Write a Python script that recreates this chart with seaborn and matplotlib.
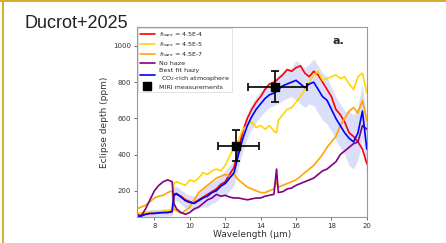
import numpy as np
import pandas as pd
import seaborn as sns
import matplotlib.pyplot as plt
from matplotlib.patches import Rectangle

# wavelength grid (um)
wave = [7.0, 7.25, 7.5, 7.75, 8.0, 8.25, 8.5, 8.75, 9.0, 9.1, 9.25, 9.5, 9.75,
        10.0, 10.25, 10.5, 10.75, 11.0, 11.25, 11.5, 11.75, 12.0, 12.25, 12.5,
        12.75, 13.0, 13.25, 13.5, 13.75, 14.0, 14.25, 14.5, 14.75, 14.9, 15.0,
        15.25, 15.5, 15.75, 16.0, 16.25, 16.5, 16.75, 17.0, 17.25, 17.5, 17.75,
        18.0, 18.25, 18.5, 18.75, 19.0, 19.25, 19.5, 19.75, 20.0]

haze_4e4 = [60, 65, 70, 75, 75, 78, 80, 80, 85, 175, 180, 170, 150,
            140, 135, 150, 165, 180, 195, 210, 235, 250, 290, 330,
            430, 530, 600, 650, 690, 720, 760, 790, 800, 810, 820,
            840, 870, 860, 880, 890, 850, 830, 860, 840, 800, 760,
            720, 650, 620, 580, 520, 500, 470, 430, 350]

haze_4e5 = [75, 78, 80, 82, 85, 85, 88, 90, 92, 240, 250, 240, 230,
            260, 250, 270, 300, 290, 310, 320, 310, 340, 390, 440,
            480, 540, 560, 580, 550, 560, 540, 560, 530, 520, 590,
            620, 650, 660, 690, 720, 760, 800, 840, 860, 810, 820,
            830, 840, 820, 830, 790, 760, 830, 850, 740]

haze_4e7 = [100, 110, 120, 140, 160, 170, 175, 190, 200, 95, 90, 75, 90,
            110, 150, 190, 210, 230, 250, 270, 280, 290, 280, 290,
            260, 240, 220, 210, 200, 190, 190, 200, 210, 250, 220,
            230, 240, 250, 260, 280, 300, 320, 340, 370, 400, 440,
            470, 500, 560, 600, 640, 660, 630, 700, 590]

no_haze = [70, 60, 100, 150, 200, 230, 250, 260, 250, 130, 100, 80, 70,
           80, 100, 110, 130, 150, 160, 180, 170, 175, 165, 160,
           160, 155, 150, 155, 160, 160, 170, 175, 180, 320, 190,
           195, 210, 215, 230, 240, 250, 260, 270, 290, 310, 320,
           340, 360, 400, 420, 440, 460, 470, 560, 540]

best_fit = [55, 60, 70, 75, 75, 78, 80, 80, 85, 180, 185, 165, 145,
            135, 130, 145, 160, 170, 190, 200, 225, 240, 270, 300,
            400, 490, 560, 610, 650, 680, 710, 730, 740, 750, 760,
            780, 790, 800, 810, 790, 770, 790, 800, 760, 720, 700,
            650, 600, 560, 520, 490, 470, 520, 640, 430]

best_fit_err = [20, 20, 20, 20, 20, 20, 20, 20, 20, 40, 40, 40, 40,
                40, 40, 40, 50, 60, 60, 60, 60, 70, 70, 70,
                70, 70, 70, 70, 70, 70, 70, 70, 70, 70, 80,
                80, 80, 80, 110, 110, 110, 110, 130, 130, 130, 130,
                120, 120, 120, 120, 150, 150, 150, 150, 150]

# MIRI points
miri_x = [12.6, 14.8]
miri_y = [450, 775]
miri_xlo = [1.0, 1.5]
miri_xhi = [1.3, 1.8]
miri_yerr = [85, 85]

df = pd.DataFrame({"wave": wave, "r": haze_4e4, "y": haze_4e5, "o": haze_4e7,
                   "p": no_haze, "b": best_fit})
lo = np.array(best_fit) - np.array(best_fit_err)
hi = np.array(best_fit) + np.array(best_fit_err)

sns.set_theme(style="white")
fig = plt.figure(figsize=(4.46, 2.43), dpi=100)
fig.patch.set_facecolor("white")

# slide border
fig.add_artist(Rectangle((0, 0.99), 1, 0.01, transform=fig.transFigure,
                         color="#d6ad2e", lw=0))
fig.add_artist(Rectangle((0.004, 0), 0.006, 1, transform=fig.transFigure,
                         color="#d6ad2e", lw=0))
fig.text(0.056, 0.885, "Ducrot+2025", fontsize=13, family="Liberation Sans",
         color="#222222")

ax = fig.add_axes([0.3065, 0.107, 0.516, 0.782])
ax.fill_between(wave, lo, hi, color="#b9bff5", alpha=0.5, lw=0)
lw = 1.2
sns.lineplot(data=df, x="wave", y="r", color="red", lw=lw, ax=ax,
             label=r"$f_{haze}$ = 4.5E-4")
sns.lineplot(data=df, x="wave", y="y", color="gold", lw=lw, ax=ax,
             label=r"$f_{haze}$ = 4.5E-5")
sns.lineplot(data=df, x="wave", y="o", color="orange", lw=lw, ax=ax,
             label=r"$f_{haze}$ = 4.5E-7")
sns.lineplot(data=df, x="wave", y="p", color="purple", lw=lw, ax=ax,
             label="No haze")
sns.lineplot(data=df, x="wave", y="b", color="blue", lw=lw, ax=ax,
             label="Best fit hazy\n CO$_2$-rich atmosphere")
ax.errorbar(miri_x, miri_y, xerr=[miri_xlo, miri_xhi], yerr=miri_yerr,
            fmt="s", color="black", ms=5.5, capsize=3, elinewidth=1.2,
            capthick=1.2, label="MIRI measurements", zorder=5)

ax.set_xlim(7, 20)
ax.set_ylim(55, 1105)
ax.set_xticks([8, 10, 12, 14, 16, 18, 20])
ax.set_yticks([200, 400, 600, 800, 1000])
ax.tick_params(labelsize=5, length=2, width=0.5, pad=2, colors="#333333",
               bottom=True, left=True)
for s in ax.spines.values():
    s.set_color("#999999")
    s.set_linewidth(0.8)
ax.set_xlabel("Wavelength (µm)", fontsize=6.5, labelpad=1, color="#333333")
ax.set_ylabel("Eclipse depth (ppm)", fontsize=6.5, labelpad=3, color="#333333")
ax.text(18.05, 1025, "a.", fontsize=8, fontweight="bold", va="center")

leg = ax.legend(loc="upper left", fontsize=4.6, handlelength=2.4,
                borderaxespad=0.15, labelspacing=0.22, frameon=True,
                fancybox=False, borderpad=0.3, handletextpad=0.6)
leg.get_frame().set_edgecolor("#cccccc")
leg.get_frame().set_linewidth(0.5)

fig.savefig("out.png", dpi=100)
